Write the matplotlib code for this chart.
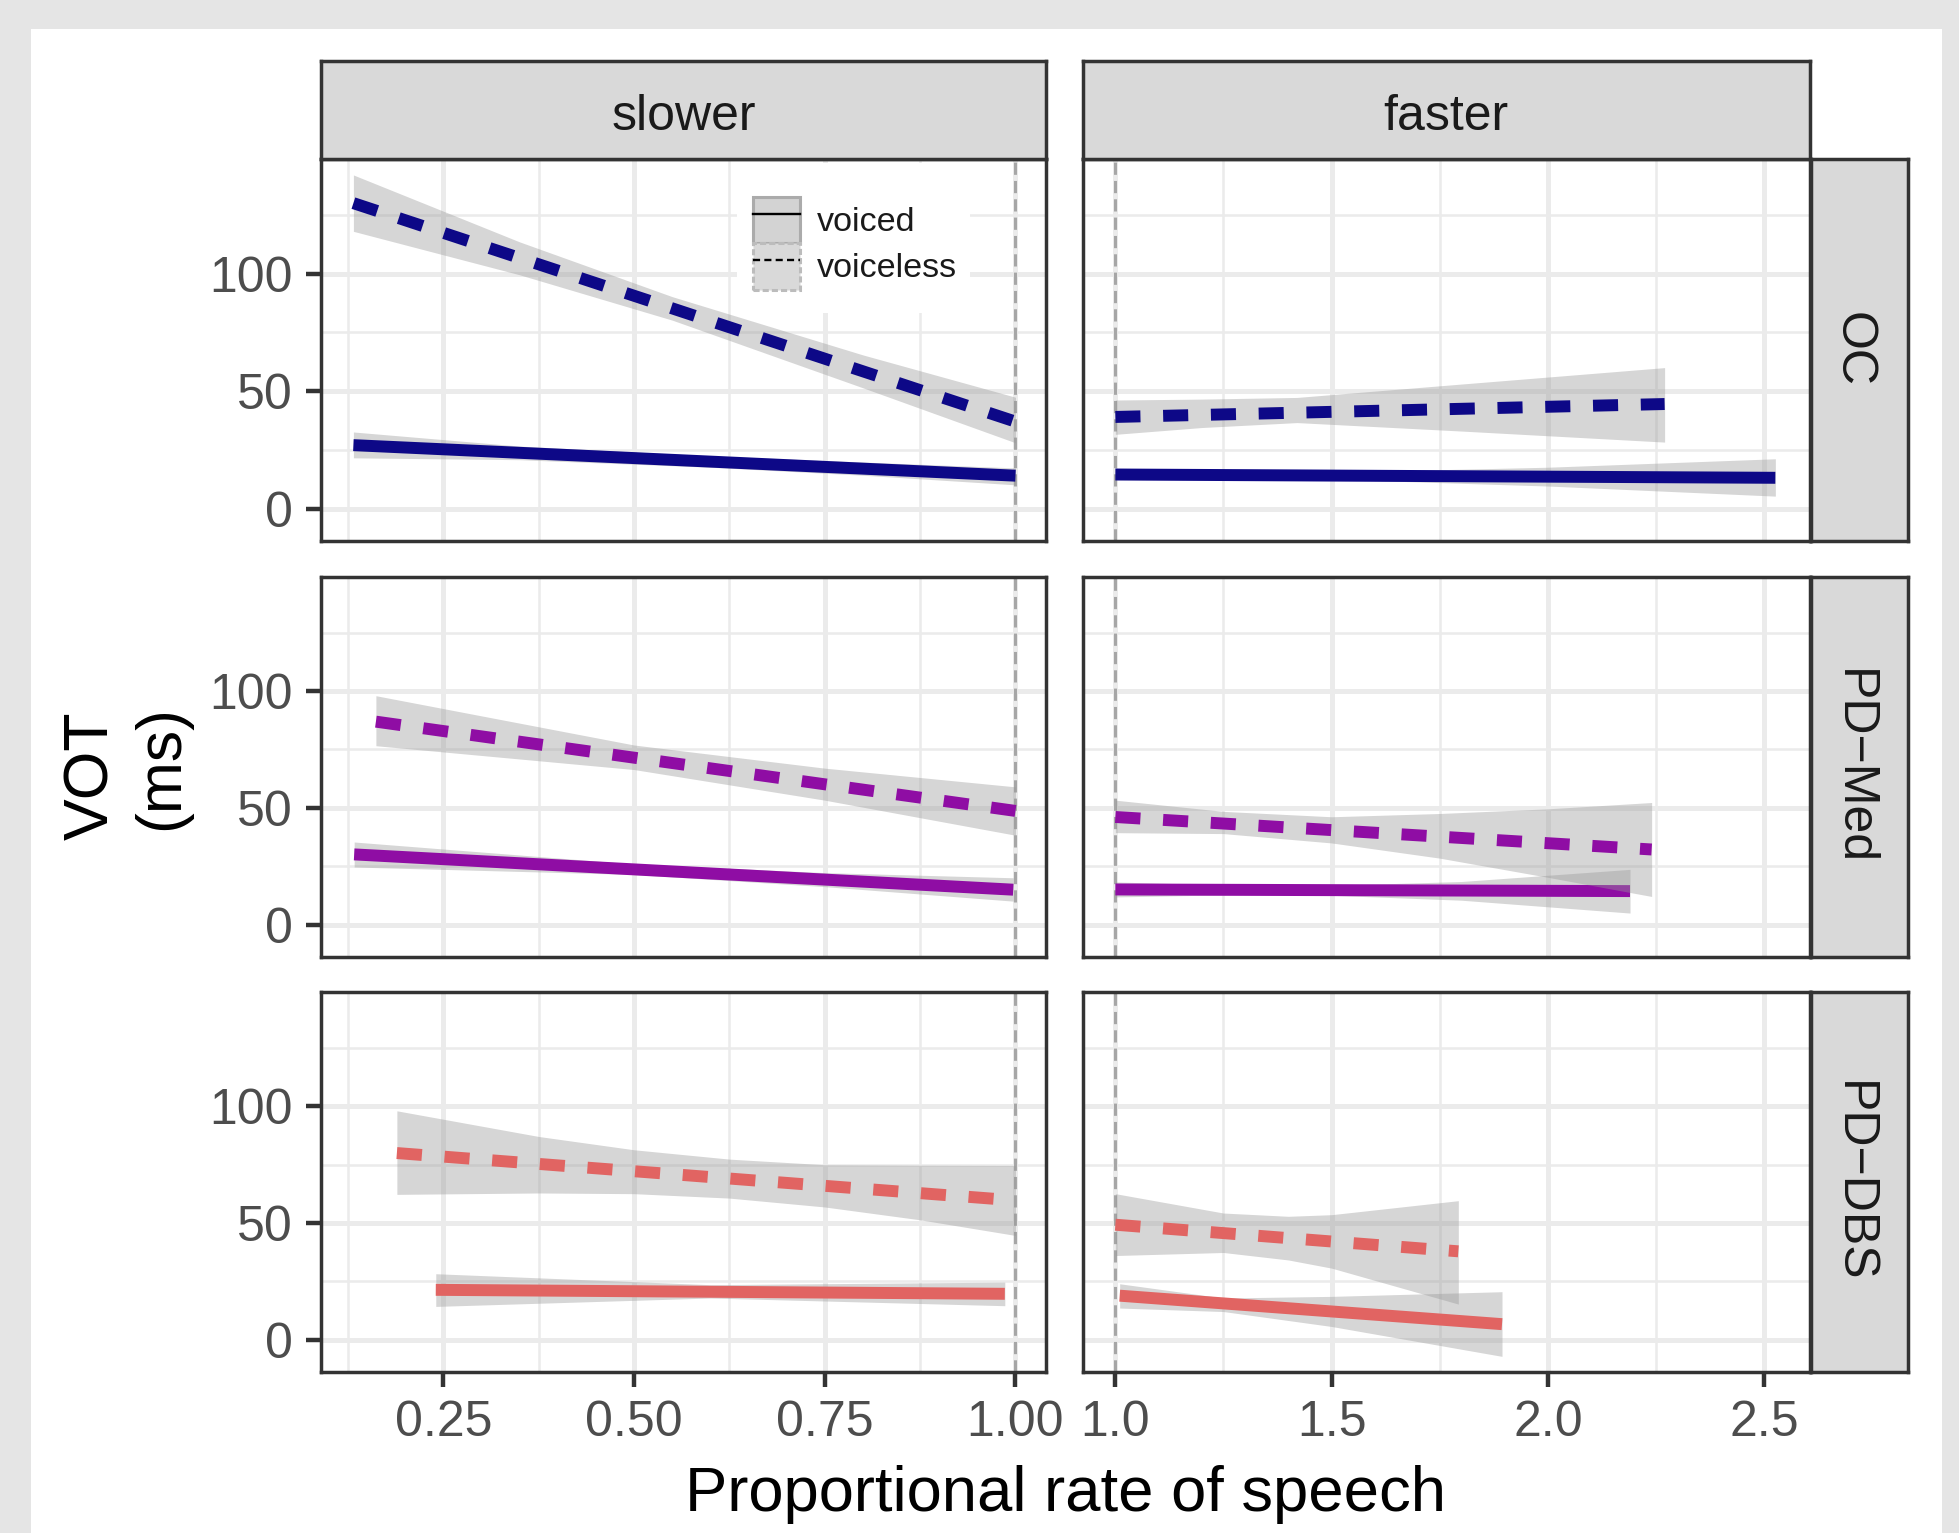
import matplotlib
matplotlib.use("Agg")
import matplotlib.pyplot as plt
from matplotlib.patches import Rectangle, Patch
from matplotlib.lines import Line2D
from matplotlib.legend_handler import HandlerTuple

plt.rcParams['font.family'] = ['Liberation Sans', 'DejaVu Sans']

# ---------------- data ----------------
groups = ['OC', 'PD\u2212Med', 'PD\u2212DBS']
rates = ['slower', 'faster']
voicings = ['voiced', 'voiceless']
group_colors = ['#0d0887', '#8f0da4', '#e16462']

x_ticks_slower = [0.25, 0.50, 0.75, 1.00]
x_ticklabels_slower = ['0.25', '0.50', '0.75', '1.00']
x_minor_slower = [0.125, 0.375, 0.625, 0.875]
x_ticks_faster = [1.0, 1.5, 2.0, 2.5]
x_ticklabels_faster = ['1.0', '1.5', '2.0', '2.5']
x_minor_faster = [1.25, 1.75, 2.25]
y_ticks = [0, 50, 100]
y_ticklabels = ['0', '50', '100']
y_minor = [25, 75, 125]

# OC, slower
oc_slow_voiced_x = [0.132, 1.0]
oc_slow_voiced_y = [27.0, 14.0]
oc_slow_voiced_ci_x = [0.132, 0.35, 0.6, 0.8, 1.0]
oc_slow_voiced_ci_lo = [21.6, 20.8, 17.6, 14.2, 10.1]
oc_slow_voiced_ci_hi = [32.6, 26.6, 22.4, 19.8, 17.3]
oc_slow_voiceless_x = [0.132, 1.0]
oc_slow_voiceless_y = [130.0, 37.0]
oc_slow_voiceless_ci_x = [0.132, 0.35, 0.55, 0.8, 1.0]
oc_slow_voiceless_ci_lo = [118.0, 99.5, 80.2, 51.4, 28.0]
oc_slow_voiceless_ci_hi = [142.0, 113.5, 90.2, 65.4, 47.4]
# OC, faster
oc_fast_voiced_x = [1.0, 2.526]
oc_fast_voiced_y = [14.5, 13.1]
oc_fast_voiced_ci_x = [1.0, 1.5, 2.0, 2.526]
oc_fast_voiced_ci_lo = [12.3, 12.5, 9.6, 5.3]
oc_fast_voiced_ci_hi = [16.7, 15.5, 17.6, 21.2]
oc_fast_voiceless_x = [1.0, 2.27]
oc_fast_voiceless_y = [39.0, 44.5]
oc_fast_voiceless_ci_x = [1.0, 1.2, 1.42, 1.8, 2.27]
oc_fast_voiceless_ci_lo = [31.6, 34.5, 36.6, 33.0, 28.3]
oc_fast_voiceless_ci_hi = [46.2, 46.6, 47.3, 53.0, 60.0]
# PD-Med, slower
med_slow_voiced_x = [0.133, 0.997]
med_slow_voiced_y = [30.1, 15.0]
med_slow_voiced_ci_x = [0.133, 0.5, 0.75, 0.997]
med_slow_voiced_ci_lo = [24.7, 21.5, 16.3, 10.1]
med_slow_voiced_ci_hi = [35.4, 26.0, 22.3, 20.1]
med_slow_voiceless_x = [0.1615, 1.0]
med_slow_voiceless_y = [86.9, 48.7]
med_slow_voiceless_ci_x = [0.1615, 0.5, 0.75, 1.0]
med_slow_voiceless_ci_lo = [76.6, 66.4, 53.3, 38.3]
med_slow_voiceless_ci_hi = [98.0, 76.9, 67.0, 59.0]
# PD-Med, faster
med_fast_voiced_x = [1.0, 2.19]
med_fast_voiced_y = [15.1, 14.4]
med_fast_voiced_ci_x = [1.0, 1.4, 1.8, 2.19]
med_fast_voiced_ci_lo = [11.9, 13.3, 10.5, 5.0]
med_fast_voiced_ci_hi = [18.3, 16.3, 18.5, 23.7]
med_fast_voiceless_x = [1.0, 2.24]
med_fast_voiceless_y = [46.1, 32.2]
med_fast_voiceless_ci_x = [1.0, 1.25, 1.5, 1.75, 2.0, 2.24]
med_fast_voiceless_ci_lo = [39.4, 39.0, 35.0, 28.5, 20.3, 12.1]
med_fast_voiceless_ci_hi = [53.3, 48.5, 46.2, 47.6, 49.6, 52.3]
# PD-DBS, slower
dbs_slow_voiced_x = [0.240, 0.986]
dbs_slow_voiced_y = [21.4, 19.7]
dbs_slow_voiced_ci_x = [0.240, 0.6, 0.986]
dbs_slow_voiced_ci_lo = [14.3, 17.9, 14.6]
dbs_slow_voiced_ci_hi = [28.3, 23.6, 24.7]
dbs_slow_voiceless_x = [0.189, 1.0]
dbs_slow_voiceless_y = [80.0, 59.7]
dbs_slow_voiceless_ci_x = [0.189, 0.375, 0.5, 0.625, 0.75, 0.875, 1.0]
dbs_slow_voiceless_ci_lo = [62.3, 62.9, 62.6, 60.7, 56.9, 51.4, 44.7]
dbs_slow_voiceless_ci_hi = [98.1, 87.1, 81.4, 77.4, 75.0, 74.8, 74.7]
# PD-DBS, faster
dbs_fast_voiced_x = [1.01, 1.894]
dbs_fast_voiced_y = [18.9, 6.7]
dbs_fast_voiced_ci_x = [1.01, 1.25, 1.5, 1.894]
dbs_fast_voiced_ci_lo = [13.6, 12.1, 5.7, -7.1]
dbs_fast_voiced_ci_hi = [24.0, 17.9, 18.6, 20.6]
dbs_fast_voiceless_x = [1.0, 1.793]
dbs_fast_voiceless_y = [49.3, 37.9]
dbs_fast_voiceless_ci_x = [1.0, 1.25, 1.4, 1.5, 1.793]
dbs_fast_voiceless_ci_lo = [36.1, 37.4, 34.2, 30.7, 15.3]
dbs_fast_voiceless_ci_hi = [62.6, 54.3, 52.9, 53.6, 59.6]

series = {
    (0, 0): [(oc_slow_voiced_x, oc_slow_voiced_y, oc_slow_voiced_ci_x, oc_slow_voiced_ci_lo, oc_slow_voiced_ci_hi),
             (oc_slow_voiceless_x, oc_slow_voiceless_y, oc_slow_voiceless_ci_x, oc_slow_voiceless_ci_lo, oc_slow_voiceless_ci_hi)],
    (0, 1): [(oc_fast_voiced_x, oc_fast_voiced_y, oc_fast_voiced_ci_x, oc_fast_voiced_ci_lo, oc_fast_voiced_ci_hi),
             (oc_fast_voiceless_x, oc_fast_voiceless_y, oc_fast_voiceless_ci_x, oc_fast_voiceless_ci_lo, oc_fast_voiceless_ci_hi)],
    (1, 0): [(med_slow_voiced_x, med_slow_voiced_y, med_slow_voiced_ci_x, med_slow_voiced_ci_lo, med_slow_voiced_ci_hi),
             (med_slow_voiceless_x, med_slow_voiceless_y, med_slow_voiceless_ci_x, med_slow_voiceless_ci_lo, med_slow_voiceless_ci_hi)],
    (1, 1): [(med_fast_voiced_x, med_fast_voiced_y, med_fast_voiced_ci_x, med_fast_voiced_ci_lo, med_fast_voiced_ci_hi),
             (med_fast_voiceless_x, med_fast_voiceless_y, med_fast_voiceless_ci_x, med_fast_voiceless_ci_lo, med_fast_voiceless_ci_hi)],
    (2, 0): [(dbs_slow_voiced_x, dbs_slow_voiced_y, dbs_slow_voiced_ci_x, dbs_slow_voiced_ci_lo, dbs_slow_voiced_ci_hi),
             (dbs_slow_voiceless_x, dbs_slow_voiceless_y, dbs_slow_voiceless_ci_x, dbs_slow_voiceless_ci_lo, dbs_slow_voiceless_ci_hi)],
    (2, 1): [(dbs_fast_voiced_x, dbs_fast_voiced_y, dbs_fast_voiced_ci_x, dbs_fast_voiced_ci_lo, dbs_fast_voiced_ci_hi),
             (dbs_fast_voiceless_x, dbs_fast_voiceless_y, dbs_fast_voiceless_ci_x, dbs_fast_voiceless_ci_lo, dbs_fast_voiceless_ci_hi)],
}

# ---------------- layout ----------------
W, H, DPI = 1959, 1533, 200
fig = plt.figure(figsize=(W / DPI, H / DPI), dpi=DPI, facecolor='#e5e5e5')

def fx(px):
    return px / W

def fy(py):
    return 1 - py / H

fig.patches.append(Rectangle((fx(31), 0), fx(1942) - fx(31), fy(29), transform=fig.transFigure,
                             facecolor='white', edgecolor='none', zorder=-10))

cols = [(320.6, 1046.0), (1082.5, 1809.5)]
rows = [(158.5, 541.0), (576.5, 957.0), (992.0, 1372.0)]
strip_top = (61.0, 158.5)
strip_right = (1811.0, 1908.0)
xlims = [(0.089, 1.040), (0.924, 2.605)]
ylim = (-13.8, 149.0)

frame_c = '#333333'
frame_lw = 1.25
line_lw = 4.3
dash = (0, (2.1, 1.9))
band_c = '#999999'
band_a = 0.4

axes = {}
for r, (y0, y1) in enumerate(rows):
    for c, (x0, x1) in enumerate(cols):
        ax = fig.add_axes([fx(x0), fy(y1), fx(x1) - fx(x0), (y1 - y0) / H])
        axes[(r, c)] = ax
        ax.set_facecolor('white')
        ax.set_axisbelow(True)
        ax.set_xlim(*xlims[c])
        ax.set_ylim(*ylim)
        if c == 0:
            ax.set_xticks(x_ticks_slower)
            ax.set_xticklabels(x_ticklabels_slower)
            ax.set_xticks(x_minor_slower, minor=True)
        else:
            ax.set_xticks(x_ticks_faster)
            ax.set_xticklabels(x_ticklabels_faster)
            ax.set_xticks(x_minor_faster, minor=True)
        ax.set_yticks(y_ticks)
        ax.set_yticklabels(y_ticklabels)
        ax.set_yticks(y_minor, minor=True)
        ax.grid(which='major', color='#ebebeb', lw=1.8)
        ax.grid(which='minor', color='#ebebeb', lw=0.9)
        ax.tick_params(which='minor', length=0)
        ax.tick_params(which='major', length=5.5, width=1.6, color=frame_c,
                       labelsize=18, labelcolor='#4d4d4d', pad=4.5)
        if r != 2:
            ax.tick_params(axis='x', which='major', length=0, labelbottom=False)
        if c != 0:
            ax.tick_params(axis='y', which='major', length=0, labelleft=False)
        for s in ax.spines.values():
            s.set_color(frame_c)
            s.set_linewidth(frame_lw)
            s.set_zorder(10)

        ax.axvline(1.0, color='#a6a6a6', lw=1.1, linestyle=(0, (4, 2)), zorder=1)

        col = group_colors[r]
        for v, (lx, ly, cx, clo, chi) in enumerate(series[(r, c)]):
            ax.fill_between(cx, clo, chi, color=band_c, alpha=band_a, lw=0, zorder=2 + 2 * v)
            if v == 0:
                ax.plot(lx, ly, color=col, lw=line_lw, solid_capstyle='butt', zorder=3 + 2 * v)
            else:
                ax.plot(lx, ly, color=col, lw=line_lw, linestyle=dash, dash_capstyle='butt', zorder=3 + 2 * v)

# top strips
for c, (x0, x1) in enumerate(cols):
    sax = fig.add_axes([fx(x0), fy(strip_top[1]), fx(x1) - fx(x0), (strip_top[1] - strip_top[0]) / H])
    sax.set_facecolor('#d9d9d9')
    sax.set_xticks([]); sax.set_yticks([])
    for s in sax.spines.values():
        s.set_color(frame_c); s.set_linewidth(frame_lw)
    fig.text(fx((x0 + x1) / 2), fy(130), rates[c], ha='center', va='baseline',
             fontsize=18, color='#1a1a1a')

# right strips
for r, (y0, y1) in enumerate(rows):
    sax = fig.add_axes([fx(strip_right[0]), fy(y1), fx(strip_right[1]) - fx(strip_right[0]), (y1 - y0) / H])
    sax.set_facecolor('#d9d9d9')
    sax.set_xticks([]); sax.set_yticks([])
    for s in sax.spines.values():
        s.set_color(frame_c); s.set_linewidth(frame_lw)
    fig.text(fx(1840), fy((y0 + y1) / 2), groups[r], rotation=-90, rotation_mode='anchor',
             ha='center', va='baseline', fontsize=18, color='#1a1a1a')

# axis titles
fig.text(fx((cols[0][0] + cols[1][1]) / 2), fy(1511), 'Proportional rate of speech',
         ha='center', va='baseline', fontsize=22.8, color='black')
fig.text(fx(108), fy(776), 'VOT', rotation=90, rotation_mode='anchor',
         ha='center', va='baseline', fontsize=22.5, color='black')
fig.text(fx(178), fy(768), '(ms)', rotation=90, rotation_mode='anchor',
         ha='center', va='baseline', fontsize=22.5, color='black')

# legend (inside top-left panel)
ax0 = axes[(0, 0)]
ax0.add_patch(Rectangle((fx(737), fy(313)), fx(970) - fx(737), (313 - 163) / H,
                        transform=fig.transFigure, facecolor='white', edgecolor='none', zorder=1.5))
h_voiced = (Patch(facecolor='#d3d3d3', edgecolor='#ababab', lw=1.1),
            Line2D([], [], color='black', lw=0.85))
h_voiceless = (Patch(facecolor='#d9d9d9', edgecolor='#bcbcbc', lw=1.1, linestyle=(0, (2, 1))),
               Line2D([], [], color='black', lw=0.85, linestyle=(0, (3, 1.8))))
leg = ax0.legend([h_voiced, h_voiceless], voicings,
                 handler_map={tuple: HandlerTuple(ndivide=1, pad=0)},
                 loc='upper left', bbox_to_anchor=(fx(753), fy(196.5)), bbox_transform=fig.transFigure,
                 frameon=False, fontsize=12.3, handlelength=1.37, handleheight=1.72,
                 labelspacing=0.0, handletextpad=0.5, borderpad=0, borderaxespad=0)
for t in leg.get_texts():
    t.set_color('#1a1a1a')
leg.set_zorder(20)

fig.savefig('out.png', dpi=DPI, facecolor=fig.get_facecolor())
